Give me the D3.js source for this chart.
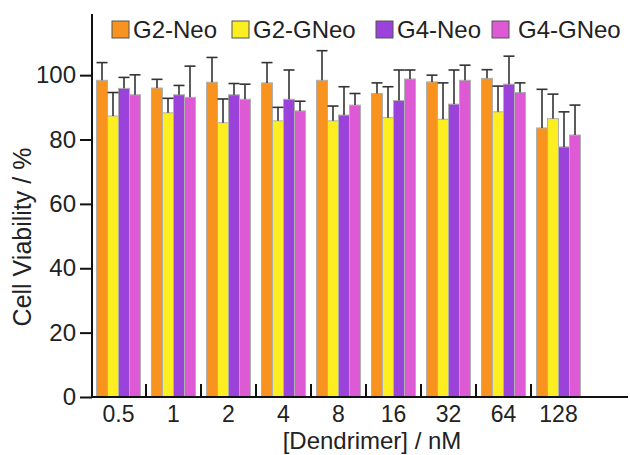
<!DOCTYPE html>
<html><head><meta charset="utf-8">
<script src="https://cdn.jsdelivr.net/npm/d3@7"></script>
<style>body{margin:0;background:#fff}svg{display:block}text{font-family:"Liberation Sans",Arial,sans-serif;fill:#222}</style>
</head><body><div id="chart"></div>
<script>
const categories = ["0.5","1","2","4","8","16","32","64","128"];
const seriesNames = ["G2-Neo","G2-GNeo","G4-Neo","G4-GNeo"];
const g2Neo     = [98.4, 96.0, 97.8, 97.6, 98.4, 94.3, 97.9, 99.0, 83.6];
const g2NeoErr  = [5.5, 2.7, 7.7, 6.3, 9.2, 3.3, 2.1, 2.7, 12.0];
const g2GNeo    = [87.3, 88.3, 85.2, 85.8, 85.8, 86.8, 86.3, 88.6, 86.5];
const g2GNeoErr = [7.3, 4.5, 7.4, 4.2, 4.6, 9.6, 11.3, 8.0, 7.6];
const g4Neo     = [95.9, 93.9, 93.9, 92.5, 87.6, 92.1, 91.0, 97.2, 77.7];
const g4NeoErr  = [3.4, 2.9, 3.5, 9.1, 8.8, 9.5, 10.6, 8.7, 10.9];
const g4GNeo    = [93.9, 93.1, 92.5, 88.9, 90.7, 98.8, 98.4, 94.6, 81.4];
const g4GNeoErr = [6.2, 9.7, 4.7, 3.0, 3.6, 2.8, 4.7, 3.0, 9.3];
const yTicks = [0, 20, 40, 60, 80, 100];
const colors = ["#F7931E", "#FCEE21", "#9B42DB", "#DE5AD4"];

const values = [g2Neo, g2GNeo, g4Neo, g4GNeo];
const errors = [g2NeoErr, g2GNeoErr, g4NeoErr, g4GNeoErr];

const W = 630, H = 455;
const svg = d3.select("#chart").append("svg").attr("width", W).attr("height", H);

const x0 = 92, yBase = 397, step = 55;
const xr = [x0 - 1, x0 - 1 + step * categories.length];
const x = d3.scaleBand().domain(categories).range(xr).paddingInner(0.2).paddingOuter(0.1);
const xb = d3.scaleBand().domain(categories).range(xr).padding(0);
const xs = d3.scaleBand().domain(seriesNames).range([0, x.bandwidth()]);
const y = d3.scaleLinear().domain([0, 119]).range([yBase, 14]);

// bars
const groups = svg.append("g").selectAll("g").data(categories).join("g")
  .attr("transform", d => `translate(${x(d)},0)`);
seriesNames.forEach((s, si) => {
  groups.append("rect")
    .attr("x", xs(s)).attr("width", xs.bandwidth())
    .attr("y", (d, i) => y(values[si][i]))
    .attr("height", (d, i) => y(0) - y(values[si][i]))
    .attr("fill", colors[si]).attr("stroke", "#b0b0b0").attr("stroke-width", 1);
});
// error bars
seriesNames.forEach((s, si) => {
  const cx = xs(s) + xs.bandwidth() / 2;
  const hw = xs.bandwidth() / 2;
  groups.append("line")
    .attr("x1", cx).attr("x2", cx)
    .attr("y1", (d, i) => y(values[si][i]))
    .attr("y2", (d, i) => y(values[si][i] + errors[si][i]))
    .attr("stroke", "#333").attr("stroke-width", 1.6);
  groups.append("line")
    .attr("x1", cx - hw).attr("x2", cx + hw)
    .attr("y1", (d, i) => y(values[si][i] + errors[si][i]))
    .attr("y2", (d, i) => y(values[si][i] + errors[si][i]))
    .attr("stroke", "#333").attr("stroke-width", 1.6);
});

// y axis
const yAxis = svg.append("g").attr("transform", `translate(${x0},0)`)
  .call(d3.axisLeft(y).tickValues(yTicks).tickSize(12).tickPadding(4));
yAxis.select(".domain").remove();
yAxis.selectAll(".tick line").attr("stroke", "#111").attr("stroke-width", 2);
yAxis.selectAll(".tick text").attr("font-size", 24).attr("fill", "#222");
svg.append("line").attr("x1", x0).attr("x2", x0).attr("y1", y(119)).attr("y2", yBase + 1)
  .attr("stroke", "#111").attr("stroke-width", 2);

// x axis
const xAxis = svg.append("g").attr("transform", `translate(0,${yBase})`)
  .call(d3.axisBottom(x).tickSize(0).tickPadding(9));
xAxis.select(".domain").remove();
xAxis.selectAll(".tick text").attr("font-size", 23).attr("fill", "#222");
svg.append("line").attr("x1", x0).attr("x2", W - 2).attr("y1", yBase).attr("y2", yBase)
  .attr("stroke", "#111").attr("stroke-width", 2);
// separator ticks between groups
svg.append("g").selectAll("line").data(categories.slice(1)).join("line")
  .attr("x1", d => xb(d)).attr("x2", d => xb(d))
  .attr("y1", yBase).attr("y2", yBase - 13)
  .attr("stroke", "#111").attr("stroke-width", 2);

// axis titles
svg.append("text").attr("x", 372).attr("y", 449).attr("text-anchor", "middle")
  .attr("font-size", 24).text("[Dendrimer] / nM");
svg.append("text").attr("transform", `translate(31,${237}) rotate(-90)`).attr("text-anchor", "middle")
  .attr("font-size", 25).text("Cell Viability / %");

// legend
const legendX = [112, 232, 376, 492];
const textOff = [21, 21, 21, 26];
const leg = svg.append("g").selectAll("g").data(seriesNames).join("g")
  .attr("transform", (d, i) => `translate(${legendX[i]},21)`);
leg.append("rect").attr("width", 17).attr("height", 17).attr("y", 0)
  .attr("fill", (d, i) => colors[i]).attr("stroke", "#555").attr("stroke-width", 1);
leg.append("text").attr("x", (d, i) => textOff[i]).attr("y", 17).attr("font-size", 24).text(d => d);
</script>
</body></html>
